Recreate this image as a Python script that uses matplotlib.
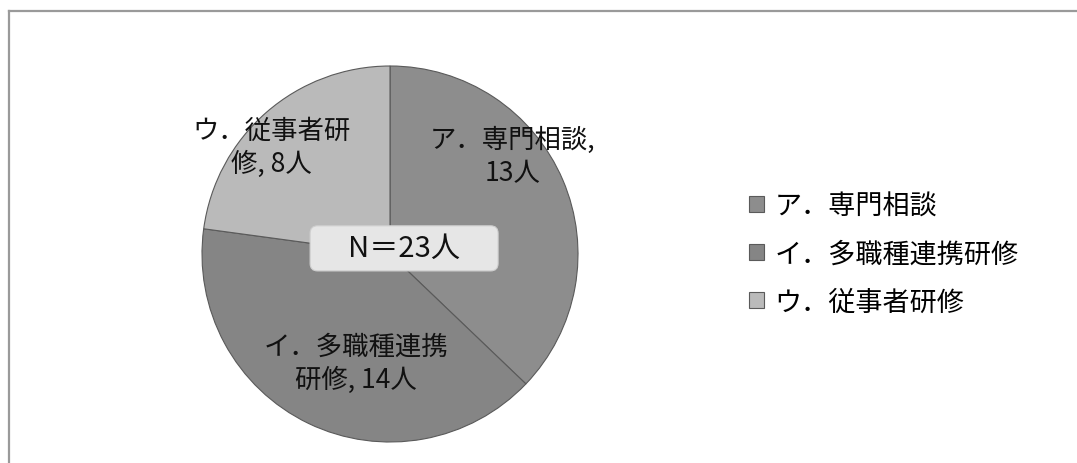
import matplotlib.pyplot as plt
from matplotlib.lines import Line2D
from matplotlib.patches import FancyBboxPatch

plt.rcParams['font.family'] = ['Noto Sans CJK JP', 'DejaVu Sans']

categories = ["ア．専門相談", "イ．多職種連携研修", "ウ．従事者研修"]
counts = [13, 14, 8]
total_n = 23
colors = ["#8d8d8d", "#858585", "#bababa"]

# where each slice label wraps, and where it sits (pie radius = 1)
wrap_at = [7, 7, 6]
label_pos = [(0.65, 0.52), (-0.18, -0.58), (-0.63, 0.57)]

fig = plt.figure(figsize=(10.77, 4.64), dpi=100)

# frame lines along the top and left edge
fig.add_artist(Line2D([9 / 1077, 1], [1 - 12 / 464, 1 - 12 / 464],
                      color="#9a9a9a", lw=1.6, transform=fig.transFigure))
fig.add_artist(Line2D([9 / 1077, 9 / 1077], [0, 1 - 12 / 464],
                      color="#9a9a9a", lw=1.6, transform=fig.transFigure))

r_px = 188
cx, cy = 390, 255
ax = fig.add_axes([(cx - r_px) / 1077, (464 - cy - r_px) / 464,
                   2 * r_px / 1077, 2 * r_px / 464])

wedges, _ = ax.pie(counts, colors=colors, startangle=90, counterclock=False,
                   radius=1.0,
                   wedgeprops=dict(edgecolor="#5a5a5a", linewidth=0.8))
ax.set_xlim(-1.0, 1.0)
ax.set_ylim(-1.0, 1.0)
ax.set_aspect("equal")
ax.axis("off")

for cat, val, n, (x, y) in zip(categories, counts, wrap_at, label_pos):
    txt = f"{cat}, {val}人"
    txt = txt[:n] + "\n" + txt[n:].strip()
    ax.text(x, y, txt, ha="center", va="center", fontsize=19,
            linespacing=1.3, color="#111111")

# total-count box in the middle
bw, bh = 1.0, 0.24
bx, by = 0.075, 0.03
ax.add_patch(FancyBboxPatch((bx - bw / 2, by - bh / 2), bw, bh,
                            boxstyle="round,pad=0,rounding_size=0.04",
                            facecolor="#e6e6e6", edgecolor="#cfcfcf",
                            linewidth=0.8, zorder=3))
ax.text(bx, by, f"N＝{total_n}人", ha="center", va="center", fontsize=21,
        color="#111111", zorder=4)

fig.legend(wedges, categories, loc="center left",
           bbox_to_anchor=(749 / 1077, (464 - 255) / 464),
           frameon=False, fontsize=19.5, borderpad=0, borderaxespad=0,
           handlelength=0.55, handleheight=0.55, handletextpad=0.4,
           labelspacing=0.78)

fig.savefig("out.png", dpi=100)
